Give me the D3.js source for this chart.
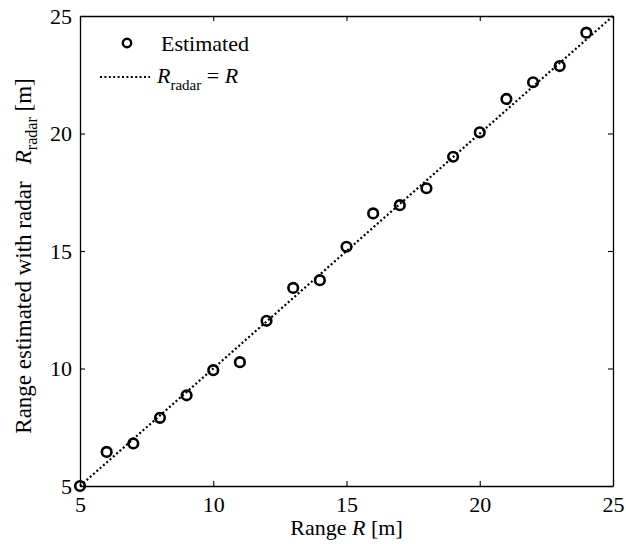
<!DOCTYPE html>
<html>
<head>
<meta charset="utf-8">
<script src="https://cdn.jsdelivr.net/npm/d3@7"></script>
<style>
  html, body { margin: 0; padding: 0; background: #fff; }
  svg { display: block; }
</style>
</head>
<body>
<svg id="chart" width="626" height="544"></svg>
<script>
// Data
const rangeTrue = [5, 6, 7, 8, 9, 10, 11, 12, 13, 14, 15, 16, 17, 18, 19, 20, 21, 22, 23, 24];
const rangeEst  = [5.0, 6.45, 6.81, 7.90, 8.86, 9.93, 10.27, 12.03, 13.43, 13.76,
                   15.18, 16.6, 16.95, 17.67, 19.01, 20.05, 21.47, 22.18, 22.87, 24.29];
const refLine   = [5, 25];
const xTicks    = [5, 10, 15, 20, 25];
const yTicks    = [5, 10, 15, 20, 25];

const FONT = "'Liberation Serif', 'Times New Roman', Times, serif";
const plot = { left: 80, right: 613, top: 16, bottom: 486 };
const fontSize = 22;

const svg = d3.select("#chart").style("font-family", FONT);
const x = d3.scaleLinear().domain([5, 25]).range([plot.left, plot.right]);
const y = d3.scaleLinear().domain([5, 25]).range([plot.bottom, plot.top]);

// Reference line R_radar = R
svg.append("line")
  .attr("x1", x(refLine[0])).attr("y1", y(refLine[0]))
  .attr("x2", x(refLine[1])).attr("y2", y(refLine[1]))
  .attr("stroke", "#000").attr("stroke-width", 2.2)
  .attr("stroke-dasharray", "2,2.4");

// Markers
svg.append("g").selectAll("circle")
  .data(rangeTrue.map((d, i) => [d, rangeEst[i]]))
  .join("circle")
  .attr("cx", d => x(d[0])).attr("cy", d => y(d[1]))
  .attr("r", 4.8)
  .attr("fill", "none").attr("stroke", "#000").attr("stroke-width", 2.6);

// Axes (ticks inward on all four sides)
const tickLen = 5;
const axB = svg.append("g").attr("transform", `translate(0,${plot.bottom})`)
  .call(d3.axisBottom(x).tickValues(xTicks).tickSizeInner(-tickLen).tickSizeOuter(0).tickPadding(10));
const axT = svg.append("g").attr("transform", `translate(0,${plot.top})`)
  .call(d3.axisTop(x).tickValues(xTicks).tickSizeInner(-tickLen).tickSizeOuter(0).tickFormat(""));
const axL = svg.append("g").attr("transform", `translate(${plot.left},0)`)
  .call(d3.axisLeft(y).tickValues(yTicks).tickSizeInner(-tickLen).tickSizeOuter(0).tickPadding(8));
const axR = svg.append("g").attr("transform", `translate(${plot.right},0)`)
  .call(d3.axisRight(y).tickValues(yTicks).tickSizeInner(-tickLen).tickSizeOuter(0).tickFormat(""));

[axB, axT, axL, axR].forEach(a => {
  a.attr("font-family", FONT).attr("font-size", fontSize);
  a.select(".domain").attr("stroke", "#000").attr("stroke-width", 1.3);
  a.selectAll(".tick line").attr("stroke", "#000").attr("stroke-width", 1.1);
  a.selectAll(".tick text").style("font-family", FONT).attr("font-size", fontSize).attr("fill", "#000");
});

// Axis labels
svg.append("text")
  .style("font-family", FONT)
  .attr("x", (plot.left + plot.right) / 2).attr("y", 535)
  .attr("text-anchor", "middle").attr("font-size", fontSize)
  .call(t => {
    t.append("tspan").text("Range ");
    t.append("tspan").attr("font-style", "italic").text("R");
    t.append("tspan").text(" [m]");
  });

svg.append("text")
  .style("font-family", FONT)
  .attr("transform", `translate(31,256) rotate(-90)`)
  .attr("text-anchor", "middle").attr("font-size", 23)
  .call(t => {
    t.append("tspan").text("Range estimated with radar\u00a0\u00a0\u00a0");
    t.append("tspan").attr("font-style", "italic").text("R");
    t.append("tspan").attr("font-size", 16).attr("dy", 6).text("radar");
    t.append("tspan").attr("dy", -6).text(" [m]");
  });

// Legend
const lg = svg.append("g").style("font-family", FONT);
lg.append("circle").attr("cx", 127).attr("cy", 43).attr("r", 4.2)
  .attr("fill", "none").attr("stroke", "#000").attr("stroke-width", 2.4);
lg.append("text").attr("x", 161).attr("y", 50.5).attr("font-size", fontSize).text("Estimated");
lg.append("line").attr("x1", 100).attr("x2", 150).attr("y1", 77).attr("y2", 77)
  .attr("stroke", "#000").attr("stroke-width", 2.2).attr("stroke-dasharray", "2,2.4");
lg.append("text").attr("x", 157).attr("y", 83).attr("font-size", fontSize)
  .call(t => {
    t.append("tspan").attr("font-style", "italic").text("R");
    t.append("tspan").attr("font-size", 15).attr("dy", 7).text("radar");
    t.append("tspan").attr("dy", -7).text(" = ");
    t.append("tspan").attr("font-style", "italic").text("R");
  });
</script>
</body>
</html>
